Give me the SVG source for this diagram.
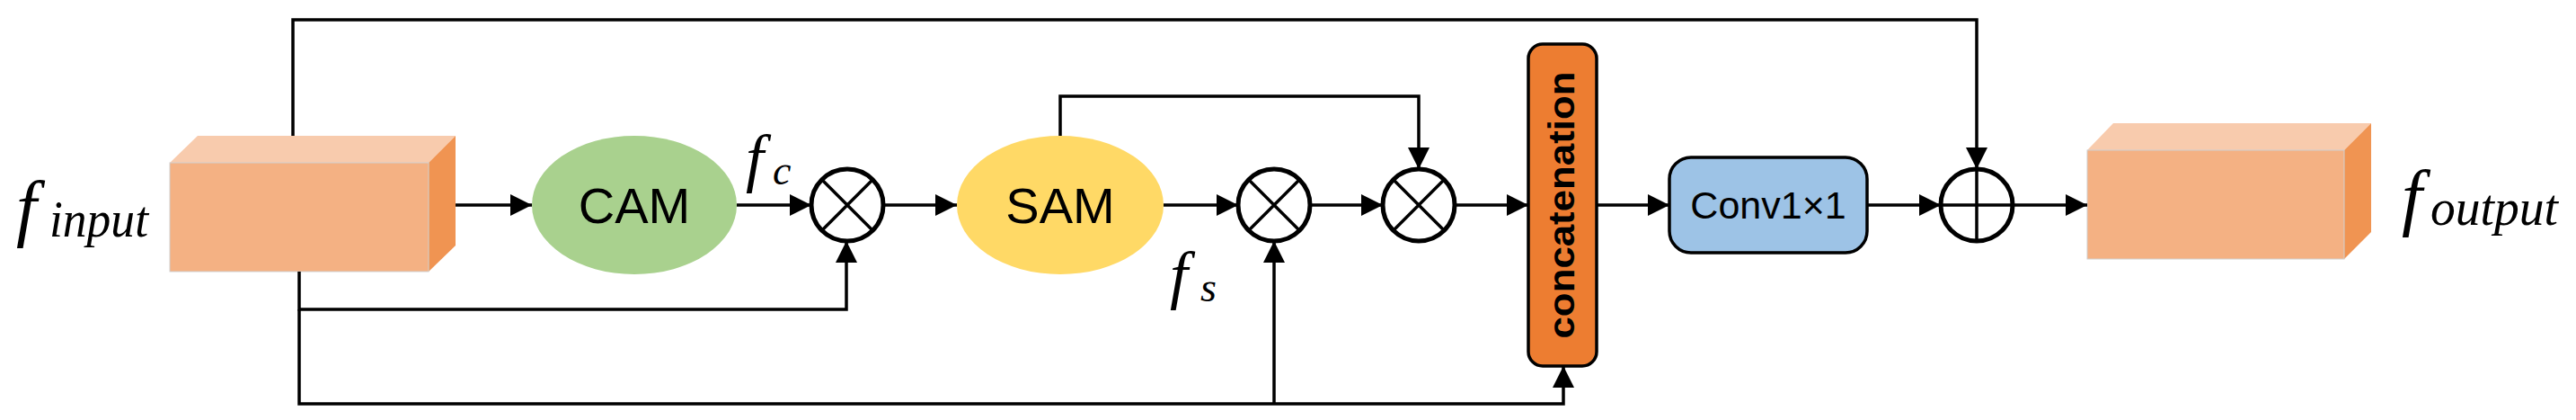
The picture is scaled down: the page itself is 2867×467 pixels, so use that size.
<svg xmlns="http://www.w3.org/2000/svg" width="2867" height="467" viewBox="0 0 2867 467">
<style>
.ln{fill:none;stroke:#000;stroke-width:3.5}
.op{fill:#fff;stroke:#000;stroke-width:5}
.mth{font-family:"Liberation Serif",serif;font-style:italic;fill:#000}
.lbl{font-family:"Liberation Sans",Arial,sans-serif;fill:#000}
</style>
<defs>
<marker id="ah" markerUnits="userSpaceOnUse" markerWidth="26" markerHeight="26" refX="24" refY="12" orient="auto">
<path d="M0,0 L24,12 L0,24 Z" fill="#000"/>
</marker>
</defs>
<g id="input">
<polygon points="189,181 220,151 507,151 477,181" fill="#F8CBAD"/>
<polygon points="477,181 507,151 507,273 477,302" fill="#F09452"/>
<rect x="189" y="181" width="288" height="121" fill="#F4B183" stroke="#d0d0d0" stroke-width="1"/>
<text class="mth" x="18" y="258" font-size="82">f</text>
<text class="mth" x="55" y="263" font-size="56" textLength="110" lengthAdjust="spacingAndGlyphs">input</text>
</g>
<g id="cam">
<ellipse cx="706" cy="228" rx="114" ry="77" fill="#A9D18E"/>
<text class="lbl" x="706" y="248" font-size="56" text-anchor="middle">CAM</text>
</g>
<g id="fc"><text class="mth" x="830" y="200" font-size="72">f</text><text class="mth" x="860" y="205" font-size="46">c</text></g>
<g id="mul1"><circle class="op" cx="943" cy="228" r="40"/><path class="ln" d="M915,200 L971,256 M971,200 L915,256"/></g>
<g id="sam">
<ellipse cx="1180" cy="228" rx="115" ry="77" fill="#FFD966"/>
<text class="lbl" x="1180" y="248" font-size="56" text-anchor="middle">SAM</text>
</g>
<g id="fs"><text class="mth" x="1302" y="330" font-size="72">f</text><text class="mth" x="1336" y="335" font-size="46">s</text></g>
<g id="mul2"><circle class="op" cx="1418" cy="228" r="40"/><path class="ln" d="M1390,200 L1446,256 M1446,200 L1390,256"/></g>
<g id="mul3"><circle class="op" cx="1579" cy="228" r="40"/><path class="ln" d="M1551,200 L1607,256 M1607,200 L1551,256"/></g>
<g id="concat">
<rect x="1701" y="49" width="76" height="358" rx="16" fill="#ED7D31" stroke="#000" stroke-width="3.5"/>
<text class="lbl" transform="translate(1752,228) rotate(-90)" font-family="DejaVu Sans" font-weight="bold" font-size="40" text-anchor="middle" textLength="297" lengthAdjust="spacingAndGlyphs">concatenation</text>
</g>
<g id="conv">
<rect x="1858" y="175" width="220" height="106" rx="24" fill="#9DC3E6" stroke="#000" stroke-width="3.5"/>
<text class="lbl" x="1968" y="243" font-size="43" text-anchor="middle">Conv1×1</text>
</g>
<g id="add"><circle class="op" cx="2200" cy="228" r="40"/><path class="ln" d="M2160,228 L2240,228 M2200,188 L2200,268"/></g>
<g id="output">
<polygon points="2323,167 2352,137 2639,137 2609,167" fill="#F8CBAD"/>
<polygon points="2609,167 2639,137 2639,258 2609,288" fill="#F09452"/>
<rect x="2323" y="167" width="286" height="121" fill="#F4B183" stroke="#d0d0d0" stroke-width="1"/>
<text class="mth" x="2673" y="246" font-size="82">f</text>
<text class="mth" x="2705" y="250" font-size="56" textLength="142" lengthAdjust="spacingAndGlyphs">output</text>
</g>
<g id="connectors" class="ln" marker-end="url(#ah)">
<path d="M507,228 L592,228"/>
<path d="M820,228 L903,228"/>
<path d="M983,228 L1065,228"/>
<path d="M1295,228 L1378,228"/>
<path d="M1458,228 L1539,228"/>
<path d="M1619,228 L1701,228"/>
<path d="M1777,228 L1858,228"/>
<path d="M2078,228 L2160,228"/>
<path d="M2240,228 L2323,228"/>
<path d="M326,151 L326,22 L2200,22 L2200,188"/>
<path d="M1180,151 L1180,107 L1579,107 L1579,188"/>
<path d="M333,302 L333,344 L942,344 L942,268"/>
<path d="M333,344 L333,449 L1740,449 L1740,407"/>
<path d="M1418,449 L1418,268"/>
</g>
</svg>
